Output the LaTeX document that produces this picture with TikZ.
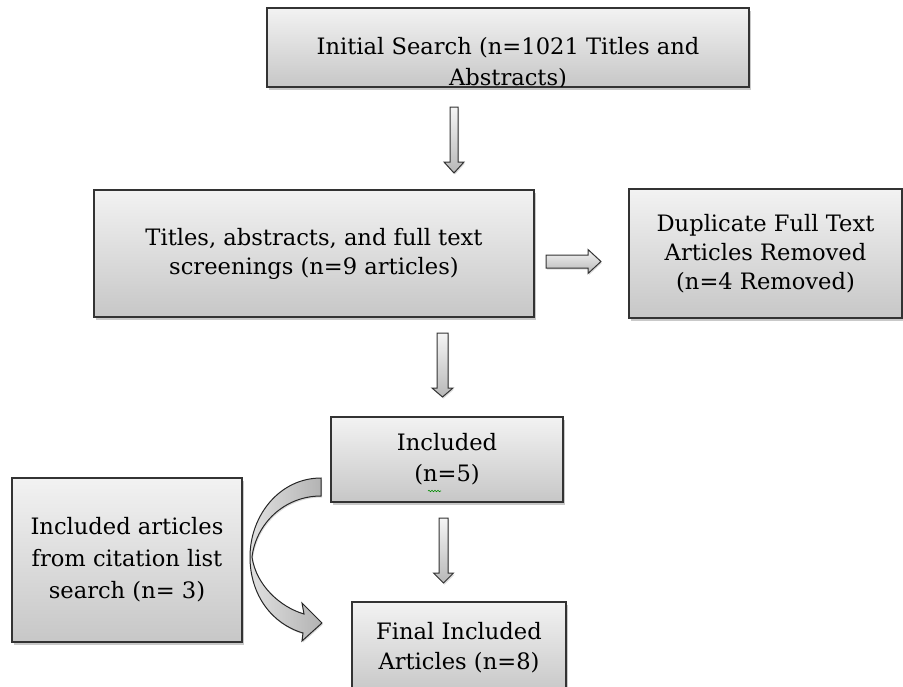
\documentclass[tikz,border=0pt]{standalone}
\usepackage{fontspec}
\setmainfont{DejaVu Serif}
\usetikzlibrary{shadows,decorations.pathmorphing}
\newcommand\blkdown[6]{%
  \shade[blk] (#1-#5,#2) -- (#1+#5,#2) -- (#1+#5,#3) -- (#1+#6,#3) -- (#1,#4)
    -- (#1-#6,#3) -- (#1-#5,#3) -- cycle;}
\newcommand\blkright[6]{%
  \shade[blk] (#2,#1-#5) -- (#2,#1+#5) -- (#3,#1+#5) -- (#3,#1+#6) -- (#4,#1)
    -- (#3,#1-#6) -- (#3,#1-#5) -- cycle;}
\begin{document}
\begin{tikzpicture}[x=1pt,y=-1pt,
  txt/.style={font=\fontsize{22.6}{29}\selectfont},
  box/.style={draw=black!80, line width=1.3pt, top color=black!5, bottom color=black!22,
    drop shadow={shadow xshift=1.5pt, shadow yshift=-2.5pt, opacity=0.3, fill=black!70},
    inner sep=0pt, align=center, txt},
  blk/.style={draw=black!80, line width=1pt, top color=black!4, bottom color=black!28,
    drop shadow={shadow xshift=1pt, shadow yshift=-1.5pt, opacity=0.2, fill=black!70}},
  curv/.style={draw=black!85, line width=1pt, left color=black!12, right color=black!30,
    drop shadow={shadow xshift=1pt, shadow yshift=-1.5pt, opacity=0.2, fill=black!70}}]
\path[use as bounding box] (0,0) rectangle (903,686);
\clip (0,0) rectangle (903,686);

% boxes
\node[box, minimum width=482pt, minimum height=79pt] (b1) at (508,47.5) {};
\begin{scope}
  \clip ([xshift=1pt,yshift=1.2pt]b1.south west) rectangle ([xshift=-1pt,yshift=-1pt]b1.north east);
  \node[txt, anchor=base, inner sep=0pt] (t1a) at (508,54) {Initial Search (n=1021 Titles and};
  \node[txt, anchor=base, inner sep=0pt] (t1b) at (508,85) {Abstracts)};
\end{scope}

\node[box, minimum width=440pt, minimum height=127pt] (b2) at (314,253.5)
  {Titles, abstracts, and full text\\screenings (n=9 articles)};
\node[box, minimum width=273pt, minimum height=129pt] (b3) at (765.5,253.5)
  {Duplicate Full Text\\Articles Removed\\(n=4 Removed)};
\node[box, minimum width=232pt, minimum height=85pt, font=\fontsize{22.6}{31}\selectfont] (b4) at (447,459.5)
  {Included\\(n=5)};
\node[box, minimum width=230pt, minimum height=164pt, font=\fontsize{22.6}{32}\selectfont] (b5) at (127,560)
  {Included articles\\from citation list\\search (n= 3)};
\node[box, minimum width=214pt, minimum height=92pt, font=\fontsize{22.6}{30}\selectfont] (b6) at (459,648)
  {Final Included\\Articles (n=8)};

% spell-check squiggle under n
\draw[green!55!black, line width=0.6pt, decorate,
  decoration={snake, amplitude=0.7pt, segment length=3pt}] (428,491) -- (441,491);

% block arrows
\blkdown{454}{107}{162}{173}{4}{10}
\blkdown{442.5}{333}{388}{397}{5.5}{10.5}
\blkdown{443.5}{518}{573}{583}{4.5}{10}
\blkright{261.5}{546}{588}{601}{6.5}{12}

% curved arrow from the (n=5) box to the final box
\shade[curv] (321,478) .. controls (280,478) and (250,515) .. (250,557)
  .. controls (250,595) and (272,624) .. (303,633)
  -- (302,641) -- (322,623) -- (302,603) -- (304,614)
  .. controls (280,607) and (256,585) .. (252,557)
  .. controls (256,524) and (284,496) .. (321,496) -- cycle;
\end{tikzpicture}
\end{document}
